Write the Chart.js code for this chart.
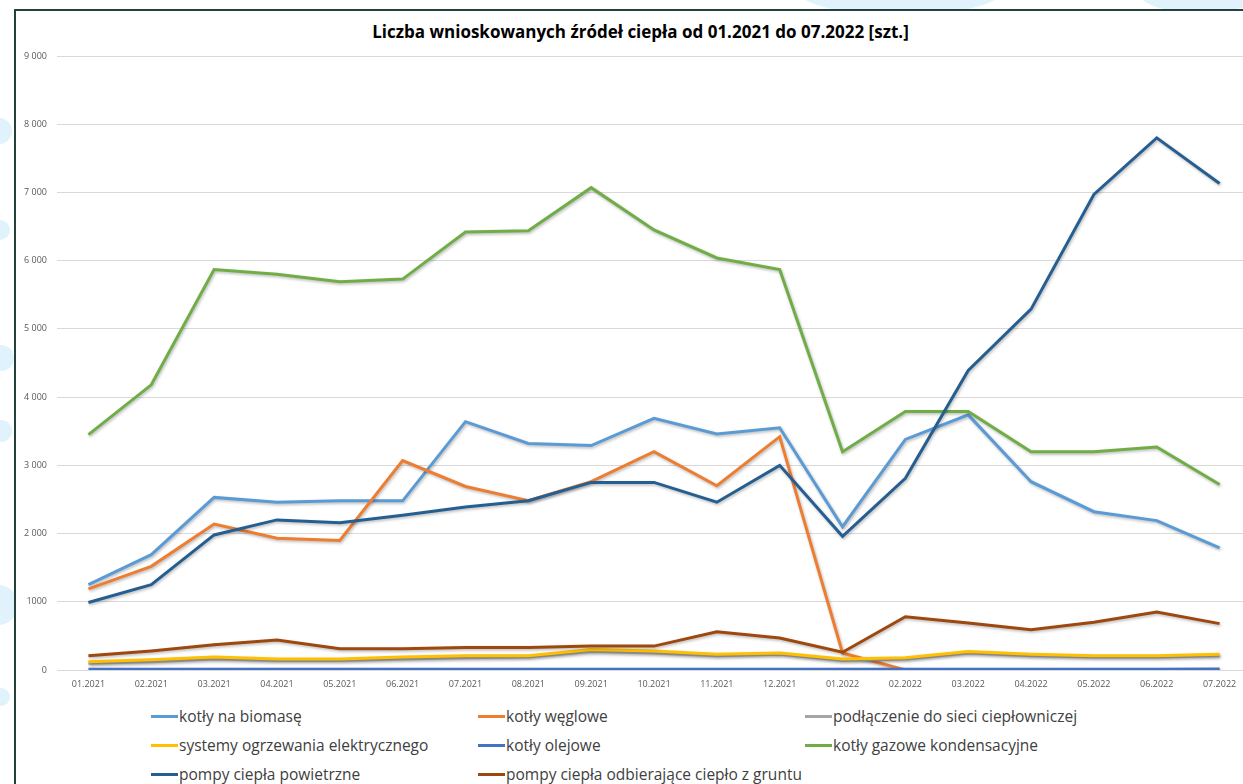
<!DOCTYPE html>
<html>
<head>
<meta charset="utf-8">
<script src="https://cdn.jsdelivr.net/npm/chart.js@4/dist/chart.umd.min.js"></script>
<style>
    html, body { margin: 0; padding: 0; background: #fff; overflow: hidden; }
    #wrap { position: relative; width: 1243px; height: 784px; overflow: hidden; background: #fff; }
    .deco { position: absolute; background: #e0f2fb; border-radius: 50%; }
    #frame {
        position: absolute; left: 14px; top: 9px; width: 1260px; height: 800px;
        border-left: 2px solid #24423b; border-top: 2px solid #24423b;
        background: #fff;
    }
    #title {
        position: absolute; left: 0; width: 1281px; top: 20px; text-align: center;
        font-family: "Open Sans", sans-serif; font-weight: bold; font-size: 17px; color: #000;
    }
    #chartBox { position: absolute; left: 0; top: 0; width: 1262px; height: 700px; }
    #legend { position: absolute; left: 0; top: 0; font-family: "Open Sans", sans-serif; font-size: 15.5px; color: #404040; }
    .item { position: absolute; display: flex; align-items: center; white-space: nowrap; transform: translateY(-50%); }
    .item span.mark { display: inline-block; width: 27px; height: 3px; margin-right: 1px; }
</style>
</head>
<body>
<div id="wrap">
    <div class="deco" style="left:-14px; top:118px; width:26px; height:26px;"></div>
    <div class="deco" style="left:-10px; top:220px; width:20px; height:20px;"></div>
    <div class="deco" style="left:-12px; top:345px; width:26px; height:26px;"></div>
    <div class="deco" style="left:-10px; top:420px; width:22px; height:22px;"></div>
    <div class="deco" style="left:-22px; top:585px; width:40px; height:40px;"></div>
    <div class="deco" style="left:-8px; top:688px; width:18px; height:18px;"></div>
    <div class="deco" style="left:800px; top:-30px; width:200px; height:45px;"></div>
    <div class="deco" style="left:1140px; top:-25px; width:120px; height:38px;"></div>
    <div id="frame"></div>
    <div id="title">Liczba wnioskowanych źródeł ciepła od 01.2021 do 07.2022 [szt.]</div>
    <div id="chartBox"><canvas id="lineChart"></canvas></div>
    <div id="legend"></div>
</div>
<script>
/* ================= DATA ================= */
const months = ["01.2021", "02.2021", "03.2021", "04.2021", "05.2021", "06.2021", "07.2021", "08.2021", "09.2021", "10.2021",
    "11.2021", "12.2021", "01.2022", "02.2022", "03.2022", "04.2022", "05.2022", "06.2022", "07.2022"];

const yTickLabels = ["0", "1000", "2 000", "3 000", "4 000", "5 000", "6 000", "7 000", "8 000", "9 000"];

const seriesNames = [
    "kotły na biomasę",
    "kotły węglowe",
    "podłączenie do sieci ciepłowniczej",
    "systemy ogrzewania elektrycznego",
    "kotły olejowe",
    "kotły gazowe kondensacyjne",
    "pompy ciepła powietrzne",
    "pompy ciepła odbierające ciepło z gruntu"
];

const seriesColors = ["#5b9bd5", "#ed7d31", "#a5a5a5", "#ffc000", "#4472c4", "#70ad47", "#255e91", "#9e480e"];

const biomasa = [1250, 1690, 2530, 2460, 2480, 2480, 3640, 3320, 3290, 3690, 3460, 3550, 2100, 3380, 3740, 2760, 2320, 2190, 1790];
const weglowe = [1190, 1520, 2140, 1930, 1900, 3070, 2690, 2480, 2760, 3200, 2700, 3420, 250, 0, 0, 0, 0, 0, 0];
const siec = [100, 120, 160, 140, 140, 160, 180, 190, 270, 250, 210, 230, 140, 160, 250, 210, 190, 190, 210];
const elektryczne = [120, 150, 190, 160, 160, 190, 210, 210, 300, 280, 230, 250, 160, 180, 270, 230, 210, 210, 230];
const olejowe = [10, 10, 10, 10, 10, 10, 10, 10, 10, 10, 10, 10, 10, 10, 10, 10, 10, 10, 15];
const gazowe = [3450, 4180, 5870, 5800, 5690, 5730, 6420, 6440, 7070, 6450, 6040, 5870, 3200, 3790, 3790, 3200, 3200, 3270, 2720];
const powietrzne = [990, 1250, 1980, 2200, 2160, 2270, 2390, 2480, 2750, 2750, 2460, 3000, 1960, 2810, 4390, 5290, 6970, 7800, 7130];
const grunt = [210, 280, 370, 440, 310, 310, 330, 330, 350, 350, 560, 470, 260, 780, 690, 590, 700, 850, 680];

const seriesData = [biomasa, weglowe, siec, elektryczne, olejowe, gazowe, powietrzne, grunt];

/* ================= CHART ================= */
const lineShadow = {
    id: "lineShadow",
    beforeDatasetDraw(chart) {
        const ctx = chart.ctx;
        ctx.save();
        ctx.shadowColor = "rgba(0,0,0,0.28)";
        ctx.shadowBlur = 3;
        ctx.shadowOffsetX = 1;
        ctx.shadowOffsetY = 1.5;
    },
    afterDatasetDraw(chart) {
        chart.ctx.restore();
    }
};

const datasets = seriesData.map((d, i) => ({
    label: seriesNames[i],
    data: d,
    borderColor: seriesColors[i],
    backgroundColor: seriesColors[i],
    borderWidth: 3,
    pointRadius: 0,
    tension: 0,
    fill: false,
    order: seriesData.length - i
}));

const ctx = document.getElementById("lineChart").getContext("2d");
new Chart(ctx, {
    type: "line",
    data: { labels: months, datasets: datasets },
    options: {
        responsive: true,
        maintainAspectRatio: false,
        animation: false,
        layout: { padding: { left: 0, right: 11, top: 56, bottom: 0 } },
        plugins: {
            legend: { display: false },
            tooltip: { enabled: false }
        },
        scales: {
            x: {
                offset: true,
                grid: { display: false, drawTicks: false },
                border: { display: false },
                ticks: {
                    color: "#595959",
                    font: { family: "Open Sans", size: 9 },
                    maxRotation: 0,
                    autoSkip: false,
                    padding: 9
                },
                afterFit(scale) { scale.height = 30; }
            },
            y: {
                min: 0,
                max: 9000,
                grid: { color: "#d9d9d9", lineWidth: 1, drawTicks: false },
                border: { display: false },
                ticks: {
                    stepSize: 1000,
                    color: "#595959",
                    font: { family: "Open Sans", size: 9 },
                    padding: 10,
                    callback: (v) => yTickLabels[Math.round(v / 1000)]
                },
                afterFit(scale) { scale.width = 57; }
            }
        }
    },
    plugins: [lineShadow]
});

/* ================= LEGEND ================= */
const legendCols = [151, 478, 805];
const legendRows = [716, 745, 774];
const legend = document.getElementById("legend");
seriesNames.forEach((name, i) => {
    const item = document.createElement("div");
    item.className = "item";
    item.style.left = legendCols[i % 3] + "px";
    item.style.top = legendRows[Math.floor(i / 3)] + "px";
    const mark = document.createElement("span");
    mark.className = "mark";
    mark.style.background = seriesColors[i];
    item.appendChild(mark);
    item.appendChild(document.createTextNode(name));
    legend.appendChild(item);
});
</script>
</body>
</html>
